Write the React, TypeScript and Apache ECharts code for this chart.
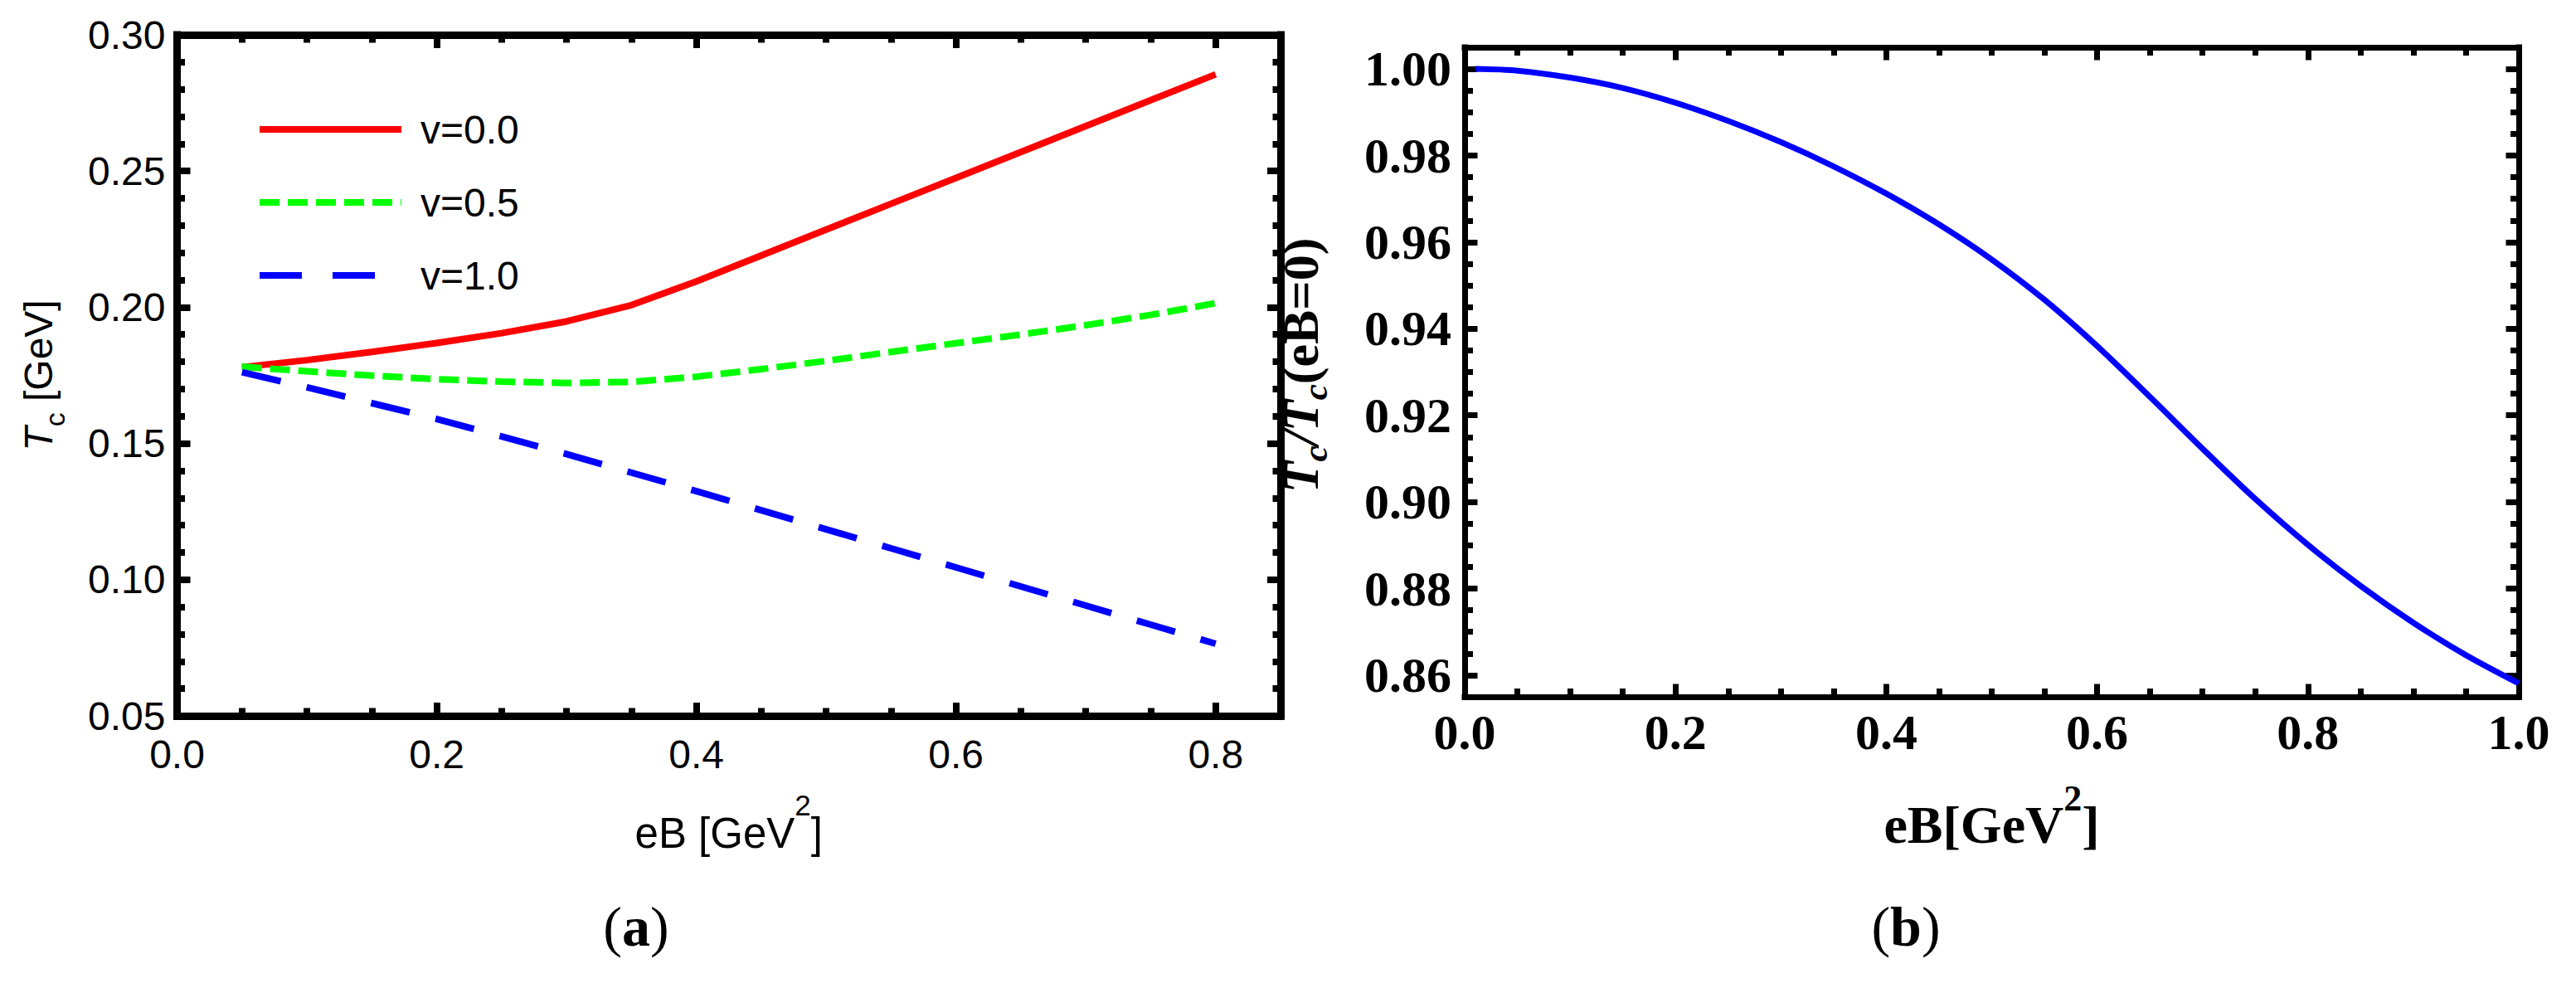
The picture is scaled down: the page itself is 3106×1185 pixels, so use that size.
import React, { useEffect, useRef } from "react";
import * as echarts from "echarts";

// ---------- data (panel a) ----------
const eBa = [0.05, 0.1, 0.15, 0.2, 0.25, 0.3, 0.35, 0.4, 0.45, 0.5, 0.55, 0.6, 0.65, 0.7, 0.75, 0.8];
const tcV00 = [0.178, 0.1806, 0.1836, 0.1869, 0.1905, 0.1948, 0.2008, 0.2095, 0.219, 0.2285, 0.238, 0.2475, 0.257, 0.2665, 0.276, 0.2855];
const tcV05 = [0.1782, 0.1765, 0.1749, 0.1736, 0.1727, 0.1722, 0.1726, 0.1745, 0.1773, 0.1803, 0.1836, 0.1868, 0.19, 0.1934, 0.1972, 0.2015];
const tcV10 = [0.1762, 0.1706, 0.1648, 0.159, 0.1526, 0.1461, 0.1393, 0.1325, 0.1255, 0.1185, 0.1115, 0.1045, 0.0975, 0.0905, 0.0835, 0.0765];
const legendNames = ["v=0.0", "v=0.5", "v=1.0"];

// ---------- data (panel b) ----------
const eBb = [0.01, 0.05, 0.1, 0.15, 0.2, 0.25, 0.3, 0.35, 0.4, 0.45, 0.5, 0.55, 0.6, 0.65, 0.7, 0.75, 0.8, 0.85, 0.9, 0.95, 1.0];
const tcRatio = [1.0, 0.9996, 0.998, 0.9956, 0.9922, 0.988, 0.9831, 0.9775, 0.9712, 0.9641, 0.956, 0.9467, 0.936, 0.9243, 0.9123, 0.9007, 0.8901, 0.8806, 0.8721, 0.8646, 0.8581];

// axis extents
const xRangeA = [0, 0.85];
const yRangeA = [0.05, 0.3];
const xRangeB = [0, 1];
const yRangeB = [0.855, 1.005];
const panelLabels = ["a", "b"];

const pairs = (xs: number[], ys: number[]) => xs.map((x, i) => [x, ys[i]]);

const SANS = "'Liberation Sans', Arial, sans-serif";
const SERIF = "'Liberation Serif', 'Times New Roman', serif";

function frame(width: number) {
  return { show: true, onZero: false, lineStyle: { color: "#000", width, cap: "square" } };
}
function ticks(len: number, width: number) {
  return { show: true, inside: true, length: len, lineStyle: { color: "#000", width } };
}
function minor(n: number, len: number, width: number) {
  return { show: true, splitNumber: n, length: len, lineStyle: { color: "#000", width } };
}

export default function App() {
  const ref = useRef<HTMLDivElement>(null);

  useEffect(() => {
    if (!ref.current) return;
    const chart = echarts.init(ref.current, undefined, { renderer: "svg" });

    const commonA = {
      min: xRangeA[0],
      max: xRangeA[1],
      interval: 0.2,
      axisLine: frame(9),
      axisTick: ticks(16, 8),
      minorTick: minor(4, 9.5, 8),
      splitLine: { show: false },
      gridIndex: 0,
      type: "value",
    };
    const commonAy = {
      min: yRangeA[0],
      max: yRangeA[1],
      interval: 0.05,
      axisLine: frame(9),
      axisTick: ticks(16, 8),
      minorTick: minor(5, 9.5, 8),
      splitLine: { show: false },
      gridIndex: 0,
      type: "value",
    };
    const commonB = {
      min: xRangeB[0],
      max: xRangeB[1],
      interval: 0.2,
      axisLine: frame(7),
      axisTick: ticks(15.5, 7),
      minorTick: minor(4, 10, 7),
      splitLine: { show: false },
      gridIndex: 1,
      type: "value",
    };
    const commonBy = {
      min: yRangeB[0],
      max: yRangeB[1],
      splitNumber: 7,
      axisLine: frame(7),
      axisTick: ticks(15.5, 7),
      minorTick: minor(4, 10, 7),
      splitLine: { show: false },
      gridIndex: 1,
      type: "value",
    };

    const option: any = {
      animation: false,
      backgroundColor: "#fff",
      grid: [
        { left: 213.5, top: 42, width: 1330.5, height: 821, outerBoundsMode: "none", containLabel: false },
        { left: 1766, top: 57, width: 1271, height: 783, outerBoundsMode: "none", containLabel: false },
      ],
      xAxis: [
        {
          ...commonA,
          position: "bottom",
          name: "{m|eB [GeV}{s|2}{m|]}",
          nameLocation: "middle",
          nameGap: 90,
          nameMoveOverlap: false,
          nameTextStyle: {
            fontFamily: SANS,
            fontSize: 51,
            color: "#000",
            rich: {
              m: { fontFamily: SANS, fontSize: 51, color: "#000", verticalAlign: "bottom", lineHeight: 77 },
              s: { fontFamily: SANS, fontSize: 35, color: "#000", verticalAlign: "top", lineHeight: 77 },
            },
          },
          axisLabel: {
            show: true,
            margin: 22,
            fontFamily: SANS,
            fontSize: 48,
            color: "#000",
            showMaxLabel: false,
            formatter: (v: number) => v.toFixed(1),
          },
        },
        { ...commonA, position: "top", axisLabel: { show: false } },
        {
          ...commonB,
          position: "bottom",
          name: "{m|eB[GeV}{s|2}{m|]}",
          nameLocation: "middle",
          nameGap: 100,
          nameMoveOverlap: false,
          nameTextStyle: {
            fontFamily: SERIF,
            fontWeight: "bold",
            fontSize: 64,
            color: "#000",
            rich: {
              m: { fontFamily: SERIF, fontWeight: "bold", fontSize: 64, color: "#000", verticalAlign: "bottom", lineHeight: 86 },
              s: { fontFamily: SERIF, fontWeight: "bold", fontSize: 44, color: "#000", verticalAlign: "top", lineHeight: 86 },
            },
          },
          axisLabel: {
            show: true,
            margin: 13,
            fontFamily: SERIF,
            fontWeight: "bold",
            fontSize: 60,
            color: "#000",
            formatter: (v: number) => v.toFixed(1),
          },
        },
        { ...commonB, position: "top", axisLabel: { show: false } },
      ],
      yAxis: [
        {
          ...commonAy,
          position: "left",
          name: "{i|T}{sub|c}{m| [GeV]}",
          nameLocation: "middle",
          nameGap: 131,
          nameMoveOverlap: false,
          nameTextStyle: {
            fontFamily: SANS,
            fontSize: 48,
            color: "#000",
            rich: {
              i: { fontFamily: SANS, fontStyle: "italic", fontSize: 48, color: "#000", verticalAlign: "top", lineHeight: 60 },
              sub: { fontFamily: SANS, fontSize: 34, color: "#000", verticalAlign: "bottom", lineHeight: 60 },
              m: { fontFamily: SANS, fontSize: 48, color: "#000", verticalAlign: "top", lineHeight: 60 },
            },
          },
          axisLabel: {
            show: true,
            margin: 14,
            fontFamily: SANS,
            fontSize: 48,
            color: "#000",
            formatter: (v: number) => v.toFixed(2),
          },
        },
        { ...commonAy, position: "right", axisLabel: { show: false } },
        {
          ...commonBy,
          position: "left",
          name: "{i|T}{sub|c}{i|/T}{sub|c}{m|(eB=0)}",
          nameLocation: "middle",
          nameGap: 159,
          nameMoveOverlap: false,
          nameTextStyle: {
            fontFamily: SERIF,
            fontWeight: "bold",
            fontSize: 62,
            color: "#000",
            padding: [0, 0, 0, 16],
            rich: {
              i: { fontFamily: SERIF, fontStyle: "italic", fontWeight: "bold", fontSize: 62, color: "#000", verticalAlign: "top", lineHeight: 70 },
              sub: { fontFamily: SERIF, fontStyle: "italic", fontWeight: "bold", fontSize: 43, color: "#000", verticalAlign: "bottom", lineHeight: 70 },
              m: { fontFamily: SERIF, fontWeight: "bold", fontSize: 62, color: "#000", verticalAlign: "top", lineHeight: 70 },
            },
          },
          axisLabel: {
            show: true,
            margin: 16,
            fontFamily: SERIF,
            fontWeight: "bold",
            fontSize: 60,
            color: "#000",
            showMinLabel: false,
            showMaxLabel: false,
            formatter: (v: number) => v.toFixed(2),
          },
        },
        { ...commonBy, position: "right", axisLabel: { show: false } },
      ],
      legend: {
        orient: "vertical",
        left: 309,
        top: 132,
        padding: 0,
        itemWidth: 171,
        itemHeight: 8,
        itemGap: 40,
        selectedMode: false,
        itemStyle: { opacity: 0 },
        lineStyle: { width: 8 },
        textStyle: { fontFamily: SANS, fontSize: 48, color: "#000", lineHeight: 48, padding: [0, 0, 0, 18] },
        data: [
          { name: legendNames[0] },
          { name: legendNames[1], lineStyle: { width: 8, type: [24, 10] } },
          { name: legendNames[2], lineStyle: { width: 8, type: [51, 37] } },
        ],
      },
      series: [
        {
          type: "line",
          name: legendNames[0],
          xAxisIndex: 0,
          yAxisIndex: 0,
          data: pairs(eBa, tcV00),
          symbol: "none",
          silent: true,
          itemStyle: { color: "#ff0000" },
          lineStyle: { color: "#ff0000", width: 8 },
        },
        {
          type: "line",
          name: legendNames[1],
          xAxisIndex: 0,
          yAxisIndex: 0,
          data: pairs(eBa, tcV05),
          symbol: "none",
          silent: true,
          itemStyle: { color: "#00ff00" },
          lineStyle: { color: "#00ff00", width: 8, type: [24, 10] },
        },
        {
          type: "line",
          name: legendNames[2],
          xAxisIndex: 0,
          yAxisIndex: 0,
          data: pairs(eBa, tcV10),
          symbol: "none",
          silent: true,
          itemStyle: { color: "#0000ff" },
          lineStyle: { color: "#0000ff", width: 8, type: [48, 32] },
        },
        {
          type: "line",
          name: "ratio",
          xAxisIndex: 2,
          yAxisIndex: 2,
          data: pairs(eBb, tcRatio),
          symbol: "none",
          silent: true,
          smooth: 0.3,
          itemStyle: { color: "#0000ff" },
          lineStyle: { color: "#0000ff", width: 7 },
        },
      ],
      graphic: [
        {
          type: "text",
          x: 767,
          y: 1117,
          style: {
            text: "{p|(}{b|" + panelLabels[0] + "}{p|)}",
            align: "center",
            verticalAlign: "middle",
            rich: {
              p: { fontFamily: SERIF, fontSize: 68, fill: "#000" },
              b: { fontFamily: SERIF, fontWeight: "bold", fontSize: 68, fill: "#000" },
            },
          },
        },
        {
          type: "text",
          x: 2298,
          y: 1117,
          style: {
            text: "{p|(}{b|" + panelLabels[1] + "}{p|)}",
            align: "center",
            verticalAlign: "middle",
            rich: {
              p: { fontFamily: SERIF, fontSize: 68, fill: "#000" },
              b: { fontFamily: SERIF, fontWeight: "bold", fontSize: 68, fill: "#000" },
            },
          },
        },
      ],
    };

    chart.setOption(option);
    return () => chart.dispose();
  }, []);

  return (
    <div
      ref={ref}
      style={{ position: "absolute", left: 0, top: 0, width: 3106, height: 1185, background: "#fff" }}
    />
  );
}
